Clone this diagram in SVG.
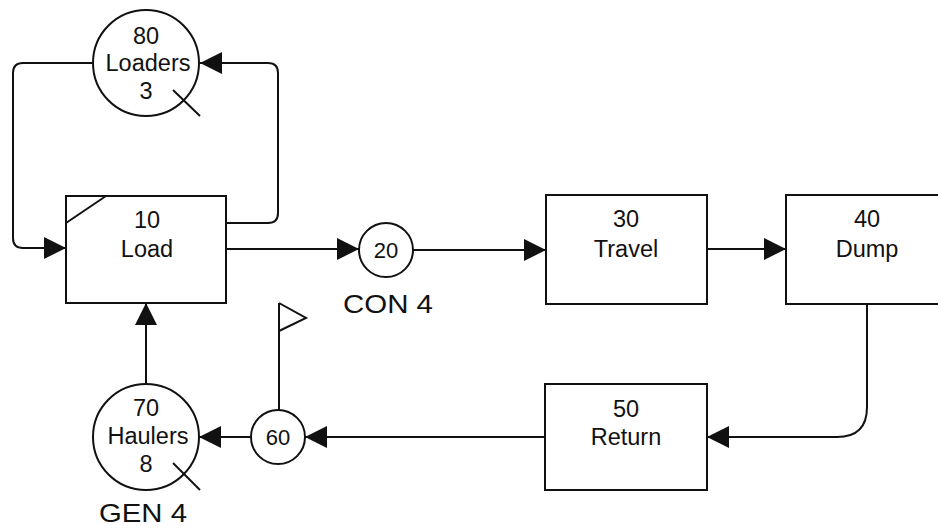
<svg xmlns="http://www.w3.org/2000/svg" width="938" height="528" viewBox="0 0 938 528">
<style>
.box{fill:#fff;stroke:#111;stroke-width:2}
.ln{fill:none;stroke:#111;stroke-width:2}
.t{font-family:"Liberation Sans",Arial,sans-serif;font-size:23.5px;fill:#111;text-anchor:middle}
.t.s{font-size:22px}
.t.lab{font-size:26px;text-anchor:start}
</style>
<defs>
<marker id="ah" viewBox="0 0 22 22" refX="22" refY="11" markerWidth="22" markerHeight="22" markerUnits="userSpaceOnUse" orient="auto">
<path d="M0,0 L22,11 L0,22 Z" fill="#111"/>
</marker>
</defs>
<rect width="938" height="528" fill="#fff"/>
<g id="connectors">
<path class="ln" d="M93,63 H23 Q13,63 13,73 V238 Q13,248 23,248 H66" marker-end="url(#ah)"/>
<path class="ln" d="M227,223 H268 Q278,223 278,213 V73 Q278,63 268,63 H200" marker-end="url(#ah)"/>
<path class="ln" d="M227,249 H359" marker-end="url(#ah)"/>
<path class="ln" d="M413,250 H546" marker-end="url(#ah)"/>
<path class="ln" d="M707,249 H786" marker-end="url(#ah)"/>
<path class="ln" d="M867,304 V407 Q867,437 837,437 H707" marker-end="url(#ah)"/>
<path class="ln" d="M545,437 H305" marker-end="url(#ah)"/>
<path class="ln" d="M251,437 H199" marker-end="url(#ah)"/>
<path class="ln" d="M146,384 V303" marker-end="url(#ah)"/>
</g>
<g id="n80">
<circle class="box" cx="146" cy="63" r="53"/>
<line class="ln" x1="173" y1="90" x2="200" y2="116"/>
<text class="t" x="146" y="44">80</text>
<text class="t" x="148" y="71">Loaders</text>
<text class="t" x="146" y="99">3</text>
</g>
<g id="n10">
<rect class="box" x="66" y="196" width="160" height="107"/>
<line class="ln" x1="66" y1="223" x2="106" y2="196"/>
<text class="t" x="147" y="228">10</text>
<text class="t" x="147" y="257">Load</text>
</g>
<g id="n20">
<circle class="box" cx="386" cy="250" r="27"/>
<text class="t s" x="386" y="258">20</text>
<text class="t lab" x="343" y="313" textLength="90" lengthAdjust="spacingAndGlyphs">CON 4</text>
</g>
<g id="n30">
<rect class="box" x="546" y="195" width="161" height="109"/>
<text class="t" x="626" y="227">30</text>
<text class="t" x="626" y="257">Travel</text>
</g>
<g id="n40">
<rect class="box" x="786" y="195" width="170" height="109"/>
<text class="t" x="867" y="227">40</text>
<text class="t" x="867" y="257">Dump</text>
</g>
<g id="n50">
<rect class="box" x="545" y="384" width="162" height="106"/>
<text class="t" x="626" y="417">50</text>
<text class="t" x="626" y="445">Return</text>
</g>
<g id="n60">
<line class="ln" x1="279" y1="411" x2="279" y2="303"/>
<path class="ln" d="M279,303 L306,318 L279,331"/>
<circle class="box" cx="278" cy="437" r="27"/>
<text class="t s" x="278" y="445">60</text>
</g>
<g id="n70">
<circle class="box" cx="146" cy="437" r="53"/>
<line class="ln" x1="173" y1="463" x2="200" y2="490"/>
<text class="t" x="146" y="416">70</text>
<text class="t" x="148" y="444">Haulers</text>
<text class="t" x="146" y="472">8</text>
<text class="t lab" x="99" y="522" textLength="88" lengthAdjust="spacingAndGlyphs">GEN 4</text>
</g>
</svg>
